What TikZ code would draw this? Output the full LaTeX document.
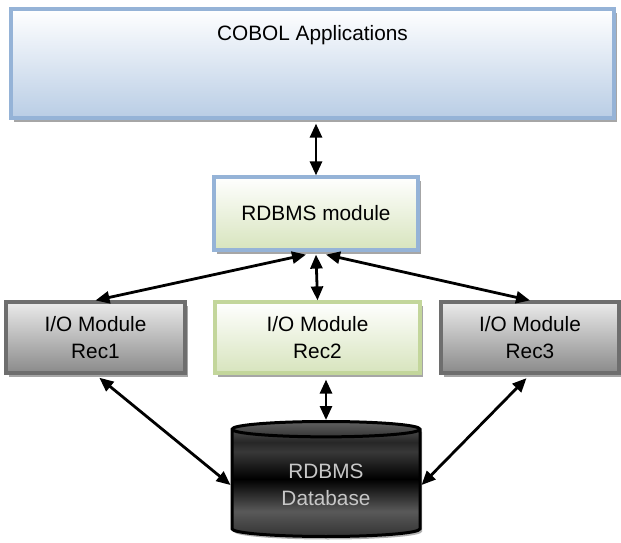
\documentclass[tikz,border=0pt]{standalone}
\usepackage{fontspec}
\setmainfont{Liberation Sans}
\usetikzlibrary{shapes.geometric, shadows, arrows.meta}
\definecolor{appedge}{HTML}{95B3D7}
\definecolor{appfill}{HTML}{B9CDE5}
\definecolor{modfill}{HTML}{D7E4BD}
\definecolor{recedge}{HTML}{C3D69B}
\definecolor{grayedge}{HTML}{6E6E6E}
\definecolor{grayfill}{HTML}{8A8A8A}
\pgfdeclareverticalshading{dbshade}{100bp}{color(0bp)=(black!80); color(25bp)=(black!80);
    color(36bp)=(black!65); color(50bp)=(black); color(62bp)=(black!78); color(66bp)=(black!85);
    color(75bp)=(black!62); color(100bp)=(black!62)}
\tikzstyle{block}=[rectangle, line width=1.6pt, align=center, inner sep=0pt,
    font=\fontsize{10.4}{13.5}\selectfont,
    drop shadow={shadow xshift=1.5pt, shadow yshift=-2.2pt, fill=black!35, opacity=1}]
\tikzstyle{apps}=[block, draw=appedge, top color=white, bottom color=appfill]
\tikzstyle{rdbms}=[block, draw=appedge, top color=white, bottom color=modfill]
\tikzstyle{iogreen}=[block, draw=recedge, top color=white, bottom color=modfill]
\tikzstyle{iogray}=[block, draw=grayedge, top color=black!8, bottom color=grayfill]
\tikzstyle{store}=[cylinder, shape border rotate=90, aspect=0.15, draw=black, line width=1.5pt,
    minimum width=94pt, minimum height=57.5pt, align=center, text=black!22,
    font=\fontsize{10.4}{13.5}\selectfont, shading=dbshade,
    drop shadow={shadow xshift=1pt, shadow yshift=-1.5pt, fill=black!30, opacity=1}]
\tikzstyle{link}=[{Triangle[length=7pt,width=6pt]}-{Triangle[length=7pt,width=6pt]}, line width=1.4pt]

\begin{document}
\begin{tikzpicture}[x=0.5pt, y=-0.5pt]
    \useasboundingbox (0,0) rectangle (621,542);
    \node[apps, minimum width=301.5pt, text height=15.5pt, text depth=39pt] (cobol) at (312.5,63.5) {COBOL Applications};
    \node[rdbms, minimum width=102pt, minimum height=36.5pt] (mod) at (316,213.5) {RDBMS module};
    \node[iogray, minimum width=89.5pt, minimum height=35.5pt] (rec1) at (95.5,337.5) {I/O Module\\Rec1};
    \node[iogreen, minimum width=102.5pt, minimum height=35.5pt] (rec2) at (317.5,337.5) {I/O Module\\Rec2};
    \node[iogray, minimum width=89pt, minimum height=35.5pt] (rec3) at (530,337.5) {I/O Module\\Rec3};
    \node[store] (db) at (326,485) {RDBMS\\Database};

    \draw[link, shorten >=2pt] (mod.north) -- (mod.north |- cobol.south);
    \draw[link] ([xshift=-5pt, yshift=-1.5pt]mod.south) -- (rec1.north);
    \draw[link] ([yshift=-1.5pt]mod.south) -- (rec2.north);
    \draw[link] ([xshift=5pt, yshift=-1.5pt]mod.south) -- (rec3.north);
    \draw[link, shorten <=2.5pt] (db.north |- rec2.south) -- (db.north);
    \draw[link, shorten <=2.5pt] (rec1.south) -- (db.west);
    \draw[link, shorten <=2.5pt] (rec3.south) -- (db.east);
\end{tikzpicture}
\end{document}
